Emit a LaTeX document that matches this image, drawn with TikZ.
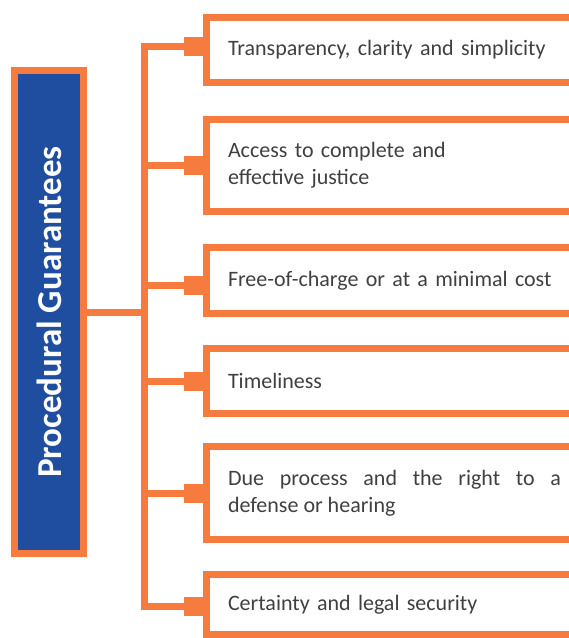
\documentclass[tikz,border=0pt]{standalone}
\usepackage{fontspec}
\setmainfont{Carlito}
\usetikzlibrary{positioning}
\definecolor{guarorange}{HTML}{F57C3E}
\definecolor{guarblue}{HTML}{1F4EA0}
\definecolor{guartext}{HTML}{404040}
\hyphenpenalty=10000

\begin{document}
\begin{tikzpicture}[x=1pt,y=-1pt,line width=7pt,node distance=30pt,
    title node/.style={draw=guarorange,fill=guarblue,minimum width=69pt,
      minimum height=483pt,inner sep=0pt,text=white,
      font=\fontsize{35}{40}\selectfont\bfseries},
    item node/.style={draw=guarorange,text width=333pt,inner xsep=21.5pt,
      inner ysep=0pt,align=left,text=guartext,
      font=\fontsize{22}{27}\selectfont},
    tab node/.style={fill=guarorange,minimum width=19pt,minimum height=19pt,
      inner sep=0pt,outer sep=0pt,anchor=east}]
\path[use as bounding box,clip] (0,0) rectangle (569,638);

\node[title node] (title) at (49,312) {\rotatebox{90}{Procedural Guarantees}};

\node[item node, anchor=north west, minimum height=65pt] (b1) at (203,14)
  {Transparency, clarity and simplicity};
\node[item node, minimum height=92pt] (b2) [below=30pt of b1]
  {Access to complete and\\effective justice};
\node[item node, minimum height=66pt] (b3) [below=29pt of b2]
  {Free-of-charge or at a minimal cost};
\node[item node, minimum height=65pt] (b4) [below=28pt of b3]
  {Timeliness};
\node[item node, minimum height=93pt, align=justify] (b5) [below=26pt of b4]
  {Due process and the right to a\linebreak defense or hearing};
\node[item node, minimum height=60pt] (b6) [below=28pt of b5]
  {Certainty and legal security};

\node[tab node] (t1) at ([yshift=4pt]b1.west) {};
\node[tab node] (t2) at (b2.west) {};
\node[tab node] (t3) at ([yshift=-5pt]b3.west) {};
\node[tab node] (t4) at (b4.west) {};
\node[tab node] (t5) at (b5.west) {};
\node[tab node] (t6) at ([yshift=-2pt]b6.west) {};

\coordinate (spine) at (144.5,0);

\draw[guarorange] (t1.west) -| (spine |- t6.west) -- (t6.west);
\draw[guarorange] (title.east) -- (spine |- title.east);
\foreach \i in {2,3,4,5}
  \draw[guarorange] (t\i.west) -- (spine |- t\i.west);

\end{tikzpicture}
\end{document}
